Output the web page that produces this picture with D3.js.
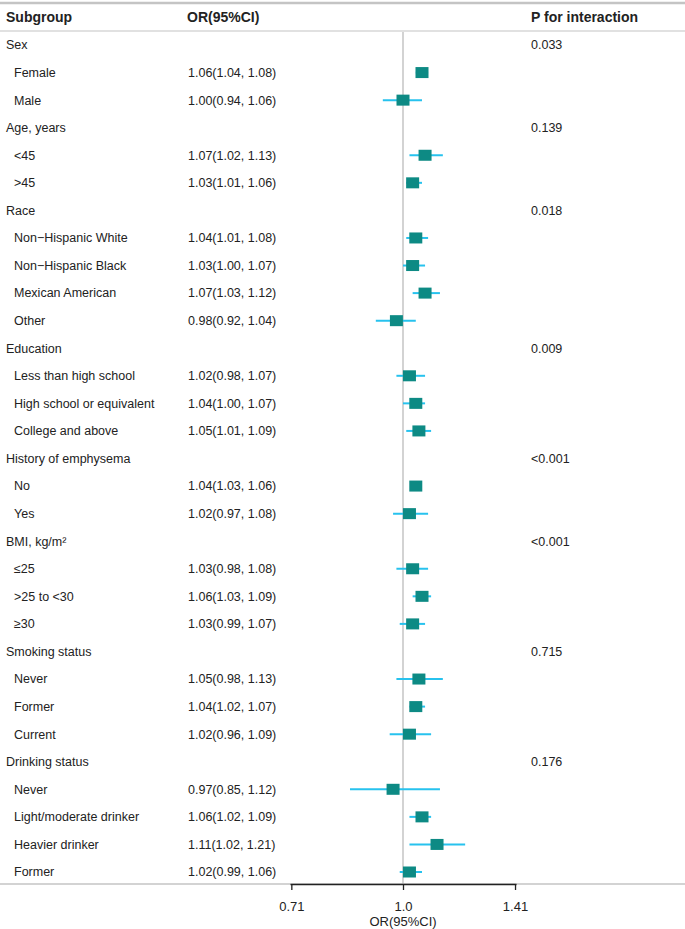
<!DOCTYPE html>
<html>
<head>
<meta charset="utf-8">
<script src="https://cdn.jsdelivr.net/npm/d3@7"></script>
<style>
    body { margin: 0; background: #fff; }
    text { font-family: "Liberation Sans", Arial, sans-serif; fill: #222; }
</style>
</head>
<body>
<div id="chart"></div>
<script>
// row labels, top to bottom (group headers have no estimate)
const rowLabels = [
    "Sex", "Female", "Male",
    "Age, years", "<45", ">45",
    "Race", "Non\u2212Hispanic White", "Non\u2212Hispanic Black", "Mexican American", "Other",
    "Education", "Less than high school", "High school or equivalent", "College and above",
    "History of emphysema", "No", "Yes",
    "BMI, kg/m\u00b2", "\u226425", ">25 to <30", "\u226530",
    "Smoking status", "Never", "Former", "Current",
    "Drinking status", "Never", "Light/moderate drinker", "Heavier drinker", "Former"
];
const orValues = [
    null, 1.06, 1.00,
    null, 1.07, 1.03,
    null, 1.04, 1.03, 1.07, 0.98,
    null, 1.02, 1.04, 1.05,
    null, 1.04, 1.02,
    null, 1.03, 1.06, 1.03,
    null, 1.05, 1.04, 1.02,
    null, 0.97, 1.06, 1.11, 1.02
];
const ciLower = [
    null, 1.04, 0.94,
    null, 1.02, 1.01,
    null, 1.01, 1.00, 1.03, 0.92,
    null, 0.98, 1.00, 1.01,
    null, 1.03, 0.97,
    null, 0.98, 1.03, 0.99,
    null, 0.98, 1.02, 0.96,
    null, 0.85, 1.02, 1.02, 0.99
];
const ciUpper = [
    null, 1.08, 1.06,
    null, 1.13, 1.06,
    null, 1.08, 1.07, 1.12, 1.04,
    null, 1.07, 1.07, 1.09,
    null, 1.06, 1.08,
    null, 1.08, 1.09, 1.07,
    null, 1.13, 1.07, 1.09,
    null, 1.12, 1.09, 1.21, 1.06
];
const pInteraction = [
    "0.033", "", "",
    "0.139", "", "",
    "0.018", "", "", "", "",
    "0.009", "", "", "",
    "<0.001", "", "",
    "<0.001", "", "", "",
    "0.715", "", "", "",
    "0.176", "", "", "", ""
];
const xTicks = [0.71, 1.0, 1.41];
const xTickLabels = ["0.71", "1.0", "1.41"];

const width = 685, height = 929;
const boxColor = "#0d8a84", ciColor = "#27c2ee", ruleColor = "#c4c4c4";

const svg = d3.select("#chart").append("svg")
    .attr("width", width)
    .attr("height", height);

const y = d3.scalePoint()
    .domain(d3.range(rowLabels.length))
    .range([45, 872]);

// log2 scale: 0.71 .. 1.41 is symmetric around 1
const x = d3.scaleLog()
    .base(2)
    .domain([Math.SQRT1_2, Math.SQRT2])
    .range([290, 516]);

const axisY = 884;

// table rules
svg.append("line")
    .attr("x1", 0).attr("x2", width)
    .attr("y1", 3).attr("y2", 3)
    .attr("stroke", ruleColor).attr("stroke-width", 2.5);
svg.append("line")
    .attr("x1", 0).attr("x2", width)
    .attr("y1", 31).attr("y2", 31)
    .attr("stroke", ruleColor).attr("stroke-width", 1.2);
svg.append("line")
    .attr("x1", 0).attr("x2", width)
    .attr("y1", axisY).attr("y2", axisY)
    .attr("stroke", ruleColor).attr("stroke-width", 1.5);

// header
const header = svg.append("g")
    .style("font-weight", "bold")
    .style("font-size", "14px");
header.append("text").attr("x", 6).attr("y", 22).text("Subgroup");
header.append("text").attr("x", 187).attr("y", 22).text("OR(95%CI)");
header.append("text").attr("x", 531).attr("y", 22).text("P for interaction");

// reference line at OR = 1
svg.append("line")
    .attr("x1", x(1)).attr("x2", x(1))
    .attr("y1", 32).attr("y2", axisY)
    .attr("stroke", ruleColor).attr("stroke-width", 1.5);

const rows = svg.append("g")
    .style("font-size", "12.5px")
    .selectAll("g")
    .data(d3.range(rowLabels.length))
    .join("g")
    .attr("transform", i => `translate(0,${y(i)})`);

rows.append("text")
    .attr("x", i => orValues[i] === null ? 6 : 14)
    .attr("dy", "0.35em")
    .text(i => rowLabels[i]);

rows.filter(i => orValues[i] !== null)
    .append("text")
    .attr("x", 188)
    .attr("dy", "0.35em")
    .text(i => `${orValues[i].toFixed(2)}(${ciLower[i].toFixed(2)}, ${ciUpper[i].toFixed(2)})`);

rows.filter(i => pInteraction[i] !== "")
    .append("text")
    .attr("x", 531)
    .attr("dy", "0.35em")
    .text(i => pInteraction[i]);

const est = rows.filter(i => orValues[i] !== null);

est.append("line")
    .attr("x1", i => x(ciLower[i]))
    .attr("x2", i => x(ciUpper[i]))
    .attr("stroke", ciColor)
    .attr("stroke-width", 2);

est.append("rect")
    .attr("x", i => x(orValues[i]) - 6.5)
    .attr("y", -5.5)
    .attr("width", 13)
    .attr("height", 11)
    .attr("fill", boxColor);

// x axis
const axis = svg.append("g")
    .attr("transform", `translate(0,${axisY})`)
    .call(d3.axisBottom(x)
        .tickValues(xTicks)
        .tickFormat((d, i) => xTickLabels[i])
        .tickSize(6)
        .tickSizeOuter(0));
axis.select(".domain").attr("stroke", "#222").attr("stroke-width", 1.3);
axis.selectAll(".tick line").attr("stroke", "#222").attr("stroke-width", 1.3);
axis.selectAll(".tick text")
    .attr("y", 18)
    .style("font-family", "'Liberation Sans', Arial, sans-serif")
    .style("font-size", "13px")
    .attr("fill", "#222");

svg.append("text")
    .attr("x", x(1))
    .attr("y", 926)
    .attr("text-anchor", "middle")
    .style("font-size", "13px")
    .text("OR(95%CI)");
</script>
</body>
</html>
